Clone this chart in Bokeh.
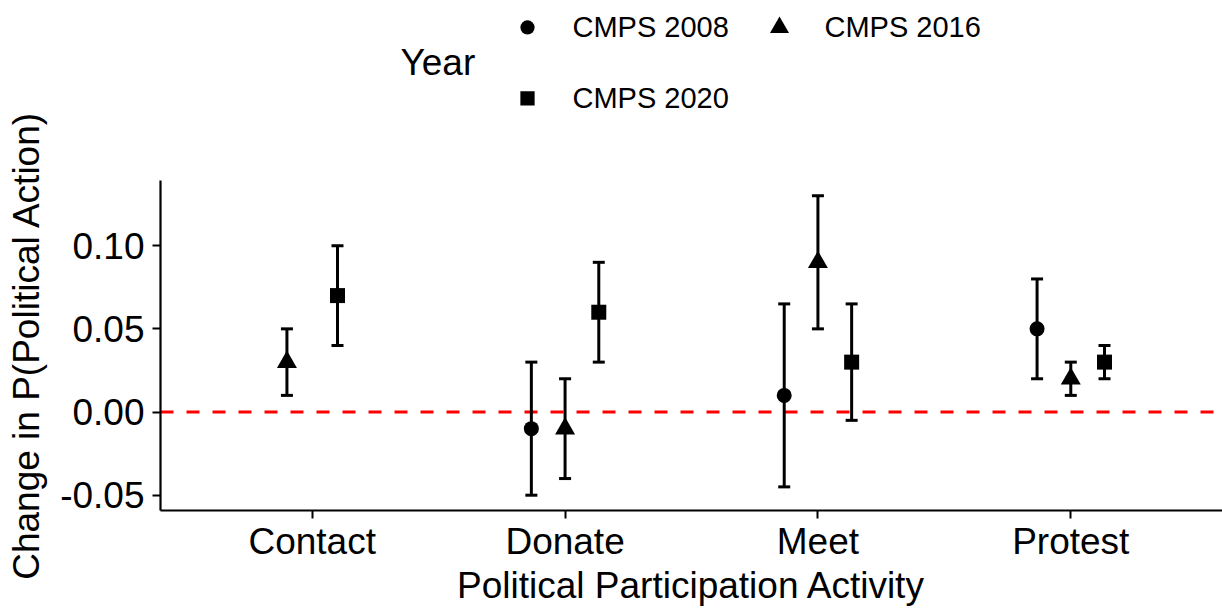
import math
from bokeh.plotting import figure
from bokeh.models import (ColumnDataSource, Range1d, FixedTicker, Whisker, TeeHead, Span,
                          NumeralTickFormatter, Label)
from bokeh.core.properties import value
from bokeh.embed import file_html
from bokeh.resources import INLINE

# ---- data -------------------------------------------------------------
activities = ["Contact", "Donate", "Meet", "Protest"]
years = ["CMPS 2008", "CMPS 2016", "CMPS 2020"]

activity = ["Contact", "Contact",
            "Donate", "Donate", "Donate",
            "Meet", "Meet", "Meet",
            "Protest", "Protest", "Protest"]
year = ["CMPS 2016", "CMPS 2020",
        "CMPS 2008", "CMPS 2016", "CMPS 2020",
        "CMPS 2008", "CMPS 2016", "CMPS 2020",
        "CMPS 2008", "CMPS 2016", "CMPS 2020"]
estimate = [0.03, 0.07, -0.01, -0.01, 0.06, 0.01, 0.09, 0.03, 0.05, 0.02, 0.03]
lower = [0.01, 0.04, -0.05, -0.04, 0.03, -0.045, 0.05, -0.005, 0.02, 0.01, 0.02]
upper = [0.05, 0.10, 0.03, 0.02, 0.09, 0.065, 0.13, 0.065, 0.08, 0.03, 0.04]

y_ticks = [-0.05, 0.00, 0.05, 0.10]

# ---- styling ----------------------------------------------------------
FONT = "Liberation Sans"
DODGE_WIDTH = 0.4
MARKERS = {"CMPS 2008": ("circle", 15),
           "CMPS 2016": ("triangle", 20),
           "CMPS 2020": ("square", 15)}

W, H = 1222, 608
LEFT, BOTTOM = 160, 97          # borders around the panel
PANEL_TOP = 180                 # pixel row where the value axis starts
Y_LO, Y_HI = -0.0592, 0.1394    # value range of the data panel

# dodge the points within each activity, like position_dodge
xpos = []
for a, yr in zip(activity, year):
    present = [y2 for a2, y2 in zip(activity, year) if a2 == a]
    n = len(present)
    k = present.index(yr)
    xpos.append(activities.index(a) + 1 + (k - (n - 1) / 2) * DODGE_WIDTH / n)

src = ColumnDataSource(dict(x=xpos, est=estimate, lo=lower, hi=upper, year=year,
                            marker=[MARKERS[y][0] for y in year],
                            size=[MARKERS[y][1] for y in year]))

# the frame reaches the top of the canvas so the key can sit above the panel;
# the value axis itself is bounded to the data panel
frame_h = H - BOTTOM
y_top = Y_LO + (Y_HI - Y_LO) * frame_h / (frame_h - PANEL_TOP)

p = figure(width=W, height=H, output_backend="svg", toolbar_location=None,
           x_range=Range1d(0.4, 4.6), y_range=Range1d(Y_LO, y_top),
           min_border_left=LEFT, min_border_right=0, min_border_top=0,
           min_border_bottom=BOTTOM)
p.grid.visible = False
p.outline_line_color = None
p.background_fill_color = "white"
p.border_fill_color = "white"

# pixel-space ranges for the key and the value-axis title
p.extra_x_ranges = {"px": Range1d(LEFT, W)}
p.extra_y_ranges = {"px": Range1d(frame_h, 0)}

zero = Span(location=0, dimension="width", line_color="#FF0000",
            line_width=3, line_dash="13 13", level="underlay")
p.add_layout(zero)

whisk = Whisker(source=src, base="x", upper="hi", lower="lo", dimension="height",
                line_color="black", line_width=3, level="glyph",
                upper_head=TeeHead(size=12, line_width=3, line_color="black"),
                lower_head=TeeHead(size=12, line_width=3, line_color="black"))
p.add_layout(whisk)

p.scatter(x="x", y="est", source=src, marker="marker", size="size",
          fill_color="black", line_color=None)

for ax in (p.xaxis[0], p.yaxis[0]):
    ax.axis_line_color = "black"
    ax.axis_line_width = 2.2
    ax.major_tick_line_color = "black"
    ax.major_tick_line_width = 2
    ax.major_tick_in = 0
    ax.major_tick_out = 8
    ax.minor_tick_line_color = None
    ax.major_label_text_font = FONT
    ax.major_label_text_font_size = "37px"
    ax.major_label_text_color = "black"
    ax.axis_label_text_font = FONT
    ax.axis_label_text_font_size = "37px"
    ax.axis_label_text_font_style = "normal"
    ax.axis_label_text_color = "black"

p.xaxis.ticker = FixedTicker(ticks=[1, 2, 3, 4])
p.xaxis.major_label_overrides = {i + 1: a for i, a in enumerate(activities)}
p.xaxis.major_label_standoff = 2
p.xaxis.axis_label = "Political Participation Activity"
p.xaxis.axis_label_standoff = 0

p.yaxis.ticker = FixedTicker(ticks=y_ticks)
p.yaxis.formatter = NumeralTickFormatter(format="0.00")
p.yaxis.major_label_standoff = 8
p.yaxis.bounds = (Y_LO, Y_HI)

# value-axis title, centred on the data panel, placed in the left border
panel_mid = (PANEL_TOP + frame_h) / 2
p.add_layout(Label(x=26, y=panel_mid, x_range_name="px", y_range_name="px",
                   text="Change in P(Political Action)", angle=math.pi / 2,
                   text_font=FONT, text_font_size="37px", text_color="black",
                   text_align="center", text_baseline="alphabetic"), "left")

# ---- key ---------------------------------------------------------------
key_x = [527, 779, 527]
key_y = [27, 27, 98]
p.scatter(x=key_x, y=key_y, x_range_name="px", y_range_name="px",
          marker=[MARKERS[y][0] for y in years],
          size=[MARKERS[y][1] * 0.95 for y in years],
          fill_color="black", line_color=None)
p.text(x=[k + 45 for k in key_x], y=key_y, text=years,
       x_range_name="px", y_range_name="px",
       text_font=value(FONT), text_font_size="29px", text_color="black",
       text_baseline="middle", text_align="left")
p.text(x=[400], y=[62], text=["Year"], x_range_name="px", y_range_name="px",
       text_font=value(FONT), text_font_size="37px", text_color="black",
       text_baseline="middle", text_align="left")

open("out.html", "w").write(file_html(p, INLINE))
